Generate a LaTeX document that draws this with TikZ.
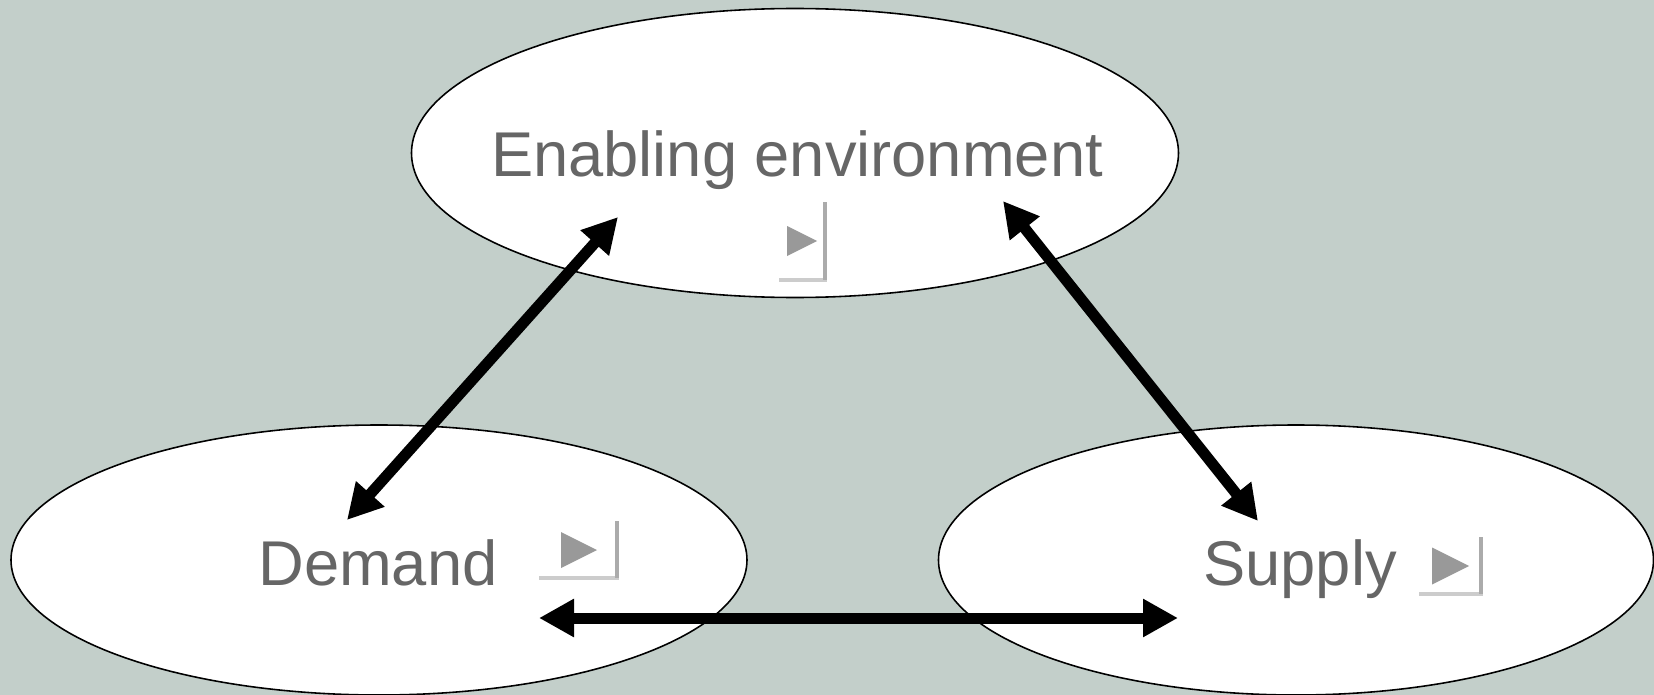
\documentclass[tikz,border=0pt]{standalone}
\usepackage{fontspec}
\setmainfont{Liberation Sans}
\usepackage{xcolor}
\definecolor{sage}{HTML}{C3CFCA}
\definecolor{labelgray}{HTML}{666666}
\usetikzlibrary{arrows.meta,shapes.geometric,calc}
\tikzset{
  oval/.style={ellipse, draw=black, fill=white, line width=0.45pt, inner sep=0pt},
  lbl/.style={anchor=base, text=labelgray, font=\fontsize{18}{20}\selectfont, inner sep=0pt},
  link/.style={{Triangle[length=3.5mm,width=3.6mm]}-{Triangle[length=3.5mm,width=3.6mm]},
               line width=1.1mm, draw=black},
  tri/.style={fill=black!40},
  vbar/.style={fill=black!33},
  hbar/.style={fill=black!20},
}
% little "play" mark: corner, bottom bar, side bar, tip offset x, tip offset y, size
\newcommand{\playmark}[6]{%
  \fill[hbar] ($(#1)+(-#2,-4)$) rectangle (#1);
  \fill[vbar] ($(#1)+(-4.5,-#3)$) rectangle ($(#1)+(0,-2)$);
  \fill[tri] ($(#1)+(#4,#5)$) -- ($(#1)+(#4-#6,#5-#6/2)$) -- ($(#1)+(#4-#6,#5+#6/2)$) -- cycle;
}

\begin{document}
\begin{tikzpicture}[x=0.1mm, y=-0.1mm]
  \useasboundingbox (0,0) rectangle (1654,695);
  \fill[sage] (0,0) rectangle (1654,695);

  % the three fields
  \node[oval, minimum width=76.7mm, minimum height=28.9mm] (env) at (795,153) {};
  \node[oval, minimum width=73.6mm, minimum height=27mm] (dem) at (379,560) {};
  \node[oval, minimum width=71.5mm, minimum height=27mm] (sup) at (1296,560) {};

  \node[lbl] (envtext) at (797,176) {Enabling environment};
  \node[lbl] (demtext) at (378,585) {Demand};
  \node[lbl] (suptext) at (1300,585) {Supply};

  \coordinate (envmark) at (827,282);
  \coordinate (demmark) at (619,580);
  \coordinate (supmark) at (1483,596);
  \playmark{envmark}{48}{80}{-10}{-41}{30}
  \playmark{demmark}{80}{59}{-22}{-30}{36}
  \playmark{supmark}{64}{59}{-14}{-30}{37}

  % arrow ends
  \coordinate (envL) at (618,217);
  \coordinate (envR) at (1003,201);
  \coordinate (demU) at (347,520);
  \coordinate (demR) at (539,618);
  \coordinate (supU) at (1258,521);
  \coordinate (supL) at (1178,618);

  \draw[link] (demU) -- (envL);
  \draw[link] (envR) -- (supU);
  \draw[link] (demR) -- (supL);
\end{tikzpicture}
\end{document}
